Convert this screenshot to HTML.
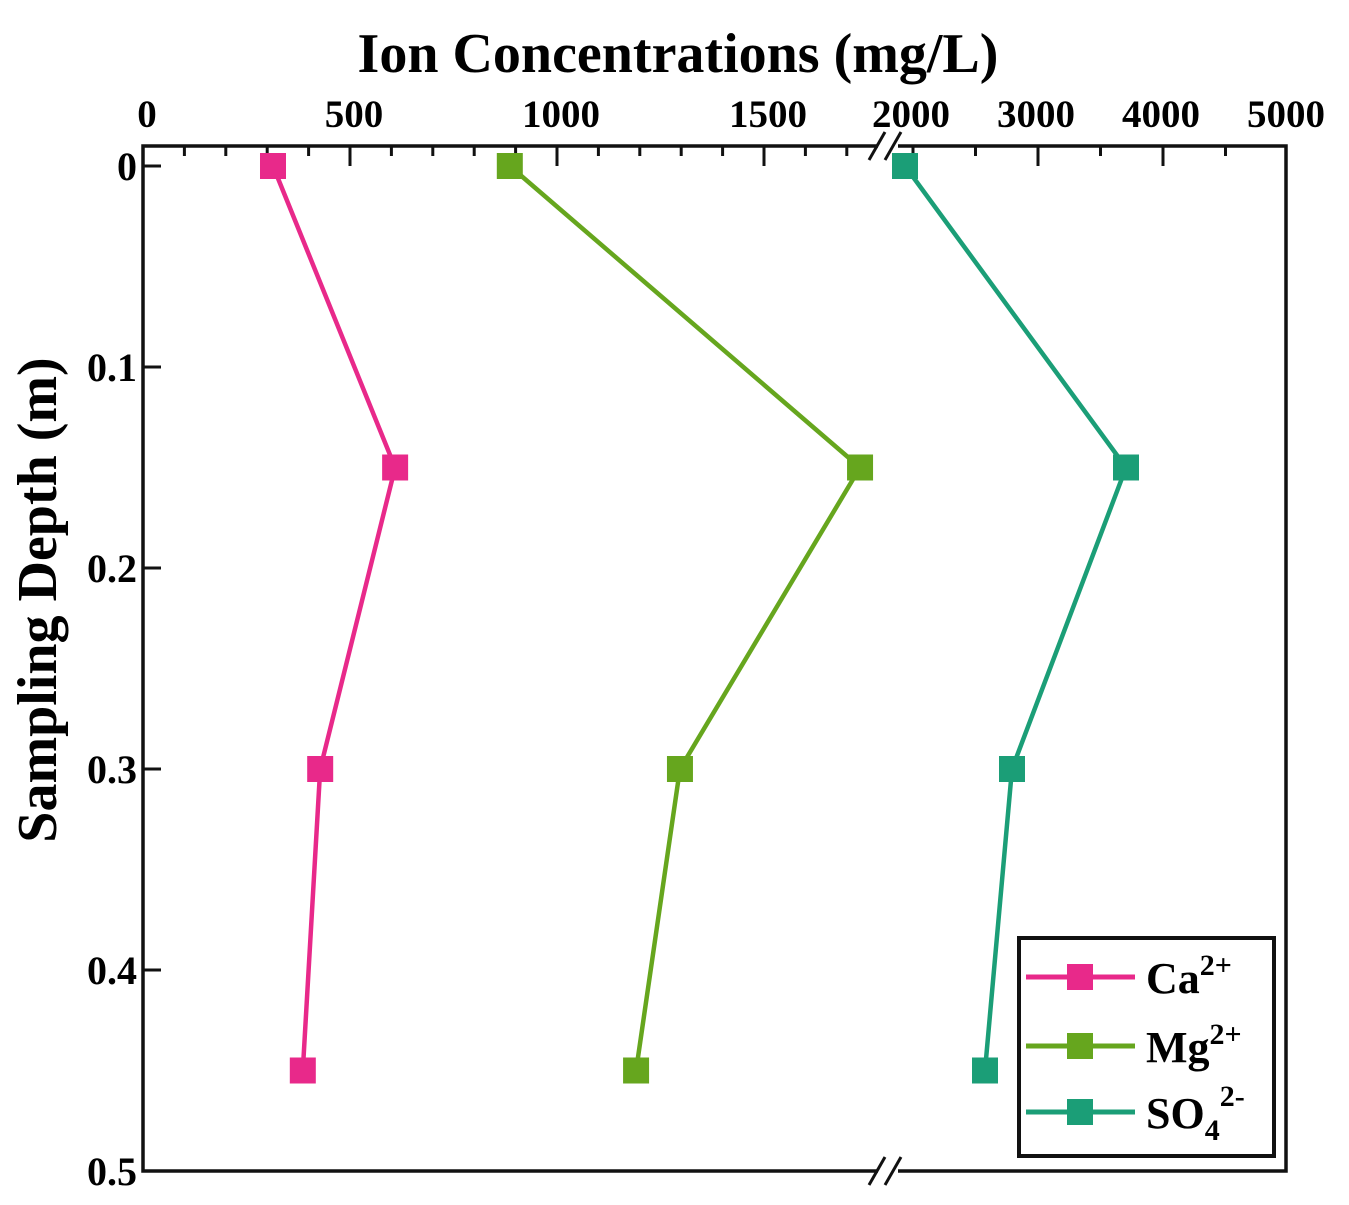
<!DOCTYPE html>
<html><head><meta charset="utf-8"><style>
body{margin:0;background:#fff}
svg{display:block;font-family:"Liberation Serif",serif;font-weight:bold}
</style></head><body>
<svg id="chart" width="1349" height="1205" viewBox="0 0 1349 1205">
<text x="678" y="72" text-anchor="middle" font-size="56">Ion Concentrations (mg/L)</text>
<text transform="translate(56,600) rotate(-90)" text-anchor="middle" font-size="56">Sampling Depth (m)</text>
<g id="axes"></g>
<g id="series"></g>
<g>
<rect x="1019" y="938" width="255" height="218" fill="#fff" stroke="#111" stroke-width="4"/>
<g><line x1="1026" y1="977" x2="1135" y2="977" stroke="#e8298a" stroke-width="5"/><rect x="1067" y="964" width="26" height="26" fill="#e8298a"/><text x="1146" y="993" font-size="44">Ca<tspan dy="-18" font-size="30">2+</tspan></text></g>
<g><line x1="1026" y1="1046" x2="1135" y2="1046" stroke="#66a61e" stroke-width="5"/><rect x="1067" y="1033" width="26" height="26" fill="#66a61e"/><text x="1146" y="1062" font-size="44">Mg<tspan dy="-18" font-size="30">2+</tspan></text></g>
<g><line x1="1026" y1="1112" x2="1135" y2="1112" stroke="#1b9e77" stroke-width="5"/><rect x="1067" y="1099" width="26" height="26" fill="#1b9e77"/><text x="1146" y="1128" font-size="44">SO<tspan dy="12" font-size="30">4</tspan><tspan dy="-34" font-size="30">2-</tspan></text></g>
</g>
</svg>
<script>
const depths=[0,0.15,0.3,0.45];
const caValues=[314,609,428,386];
const mgValues=[886,1732,1297,1191];
const so4Values=[1936,3704,2792,2576];
const leftTicks=[0,500,1000,1500];
const rightTicks=[2000,3000,4000,5000];
const yTicks=[0,0.1,0.2,0.3,0.4,0.5];
const yTickLabels=["0","0.1","0.2","0.3","0.4","0.5"];
const NS="http://www.w3.org/2000/svg";
const L=143,R=1286,T=146,B=1171,BRK=885;
function xL(v){return 143+v*0.414;}
function xR(v){return 913+(v-2000)*0.125;}
function xAny(v,right){return right?xR(v):xL(v);}
function y(d){return 166+d*2010;}
function mk(tag,attrs,parent){const e=document.createElementNS(NS,tag);for(const k in attrs)e.setAttribute(k,attrs[k]);parent.appendChild(e);return e;}
const ax=document.getElementById('axes');
let p=mk('path',{d:`M${BRK-7},${T} H${L} V${B} H${BRK-7} M${BRK+13},${T} H${R} V${B} H${BRK+13}`,fill:'none',stroke:'#111','stroke-width':3.5},ax);


[[T],[B]].forEach(([yy])=>{[-10,6].forEach(o=>{const l=mk('line',{x1:BRK+o-6,y1:yy+14,x2:BRK+o+10,y2:yy-14,stroke:'#111','stroke-width':3},ax);});});
for(let v=100;v<=1700;v+=100){const major=v%500===0;const t=mk('line',{x1:xL(v),y1:T,x2:xL(v),y2:T+(major?20:10),stroke:'#111','stroke-width':3},ax);}
for(let v=2000;v<5000;v+=500){const major=v%1000===0;const t=mk('line',{x1:xR(v),y1:T,x2:xR(v),y2:T+(major?20:10),stroke:'#111','stroke-width':3},ax);}
leftTicks.forEach(v=>{const t=mk('text',{x:xL(v)+4,y:127,'text-anchor':'middle','font-size':39},ax);t.textContent=v;});
rightTicks.forEach(v=>{const t=mk('text',{x:xR(v)-2,y:127,'text-anchor':'middle','font-size':39},ax);t.textContent=v;});
yTicks.forEach((d,i)=>{const t=mk('line',{x1:L,y1:y(d),x2:L+18,y2:y(d),stroke:'#111','stroke-width':3},ax);
 const tx=mk('text',{x:L-6,y:y(d)+14,'text-anchor':'end','font-size':40},ax);tx.textContent=yTickLabels[i];});
const sg=document.getElementById('series');
[[caValues,'#e8298a',false,'ca'],[mgValues,'#66a61e',false,'mg'],[so4Values,'#1b9e77',true,'so4']].forEach(([vals,c,right,nm])=>{
 const pts=vals.map((v,i)=>xAny(v,right)+','+y(depths[i])).join(' ');
 const pl=mk('polyline',{points:pts,fill:'none',stroke:c,'stroke-width':4.5},sg);
 
 
 vals.forEach((v,i)=>{const r=mk('rect',{x:xAny(v,right)-13,y:y(depths[i])-13,width:26,height:26,fill:c},sg);
 
 });
});
</script>
</body></html>
